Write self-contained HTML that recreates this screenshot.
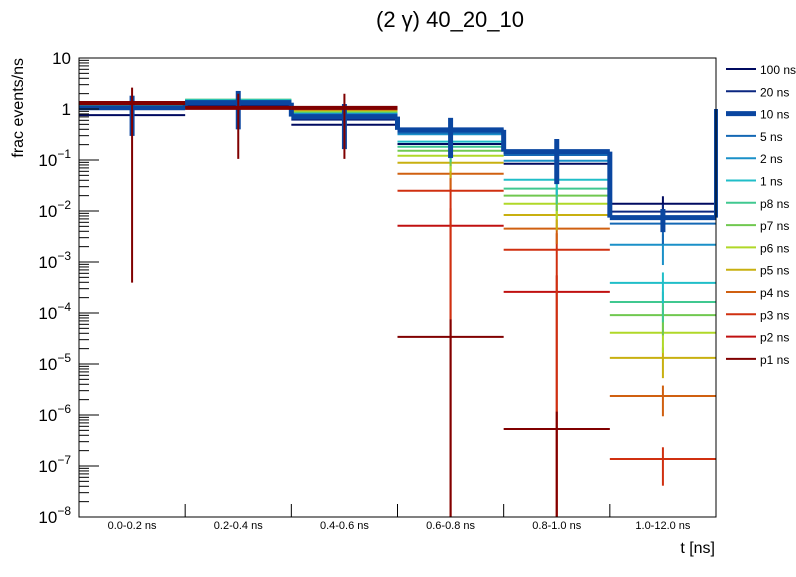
<!DOCTYPE html>
<html><head><meta charset="utf-8"><style>
body{margin:0;background:#fff;font-family:"Liberation Sans",sans-serif}
svg text{font-family:"Liberation Sans",sans-serif}
</style></head><body>
<svg id="chart" width="796" height="572" xmlns="http://www.w3.org/2000/svg">
<rect width="796" height="572" fill="#fff"/>
<text x="450" y="27" font-size="22" text-anchor="middle">(2 γ) 40_20_10</text>
<text x="715" y="553" font-size="16" text-anchor="end">t [ns]</text>
<text transform="translate(23,58) rotate(-90)" font-size="16" text-anchor="end">frac events/ns</text>
<g id="plot"></g>
<g id="legend"></g>
</svg>
<script>
const categories=["0.0-0.2 ns","0.2-0.4 ns","0.4-0.6 ns","0.6-0.8 ns","0.8-1.0 ns","1.0-12.0 ns"];
const seriesNames=["100 ns","20 ns","10 ns","5 ns","2 ns","1 ns","p8 ns","p7 ns","p6 ns","p5 ns","p4 ns","p3 ns","p2 ns","p1 ns"];
const seriesColors=["#000a60","#0a2680","#0a46a0","#1468b4","#1a90c8","#20bec8","#40c890","#70c850","#b0d828","#c8b010","#d06010","#d03010","#c01010","#800000"];
const v100=[0.76,1.05,0.49,0.206,0.0846,0.0139];
const v20=[1.0,1.2,0.62,0.39,0.137,0.0097];
const v10=[1.06,1.33,0.71,0.39,0.146,0.0074];
const v5=[1.08,1.38,0.75,0.343,0.125,0.00564];
const v2=[1.1,1.42,0.8,0.32,0.0969,0.00218];
const v1=[1.1,1.48,0.8,0.229,0.0411,0.00039];
const vp8=[1.12,1.52,0.82,0.182,0.0274,0.000164];
const vp7=[1.14,1.52,0.85,0.152,0.02,0.000091];
const vp6=[1.16,1.5,0.88,0.121,0.0139,0.000041];
const vp5=[1.18,1.45,0.9,0.0885,0.00835,0.0000132];
const vp4=[1.2,1.35,0.95,0.0539,0.0045,0.00000236];
const vp3=[1.22,1.2,1.0,0.025,0.00174,0.000000137];
const vp2=[1.26,1.1,1.02,0.00515,0.00026,1e-9];
const vp1=[1.31,1.05,1.05,0.000034,0.00000053,1e-11];
const seriesValues=[v100,v20,v10,v5,v2,v1,vp8,vp7,vp6,vp5,vp4,vp3,vp2,vp1];
const e10=[0.72,0.7,0.77,0.72,0.77,0.48];
const eGen=[0,0,0,0.5,0.5,0.6];
const ep1=[0.9997,0.9,0.9,1.2,1.2,0];
const ep2=[0,0,0,1.2,1.1,0];
const ep3=[0,0,0,1.1,1.1,0.7];
const yTickExps=[1,0,-1,-2,-3,-4,-5,-6,-7,-8];

const X0=79,X1=716,Y0=58,Y1=517,LOGMAX=1,LOGMIN=-8;
const NS="http://www.w3.org/2000/svg";
const plot=document.getElementById('plot');
const bw=(X1-X0)/categories.length;
function xs(i){return X0+i*bw;}
function ys(v){if(v<=0)return Y1+50;return Y0+(LOGMAX-Math.log10(v))/(LOGMAX-LOGMIN)*(Y1-Y0);}
function cl(y){return Math.max(Y0,Math.min(Y1,y));}
function mk(t,a,p){const e=document.createElementNS(NS,t);for(const k in a)e.setAttribute(k,a[k]);(p||plot).appendChild(e);return e;}

function errFor(s){if(s===2)return e10;if(s===13)return ep1;if(s===12)return ep2;if(s===11)return ep3;if(s===0||s===1)return [0,0,0,0,0,0.4];return eGen;}

const order=[12,11,10,9,8,7,6,5,4,3,0,1,2,13];
order.forEach(s=>{
  const vals=seriesValues[s];const col=seriesColors[s];
  const g=mk('g',{});
  
  
  const er=errFor(s);
  vals.forEach((v,i)=>{
    const y=ys(v);
    let sw=s===2?5:2;
    if(s===13&&i<3)sw=4;
    if(y<=Y1&&y>=Y0){
      const l=mk('line',{x1:xs(i),x2:xs(i+1),y1:y,y2:y,stroke:col,'stroke-width':sw},g);
      
      
    }
    if(er[i]>0){
      const hi=cl(ys(v*(1+er[i])));const lo=cl(ys(v*(1-er[i])));
      if(lo>Y0&&hi<Y1){
        const b=mk('line',{x1:xs(i)+bw/2,x2:xs(i)+bw/2,y1:hi,y2:lo,stroke:col,'stroke-width':s===2?5:2},g);
        
        
      }
    }
    if(s===2&&i>0){
      mk('line',{x1:xs(i),x2:xs(i),y1:ys(vals[i-1]),y2:y,stroke:col,'stroke-width':sw},g);
    }
  });
  if(s===2){mk('line',{x1:X1,x2:X1,y1:ys(vals[vals.length-1]),y2:109,stroke:col,'stroke-width':4},g);}
});

const fr=mk('rect',{x:X0,y:Y0,width:X1-X0,height:Y1-Y0,fill:'none',stroke:'#000','stroke-width':1});

yTickExps.forEach(e=>{
  const y=ys(Math.pow(10,e));
  mk('line',{x1:X0,x2:X0+20,y1:y,y2:y,stroke:'#000'});
  const t=mk('text',{x:X0-8,y:y+6,'font-size':17,'text-anchor':'end'});
  
  if(e===1)t.textContent='10';else if(e===0)t.textContent='1';
  else{t.textContent='10';const sp=mk('tspan',{dy:-8,'font-size':12},t);sp.textContent='−'+(-e);}
  if(e>LOGMIN){for(let m=2;m<=9;m++){const ym=ys(m*Math.pow(10,e-1));mk('line',{x1:X0,x2:X0+10,y1:ym,y2:ym,stroke:'#000'});}}
});
categories.forEach((c,i)=>{
  if(i>0)mk('line',{x1:xs(i),x2:xs(i),y1:Y1,y2:Y1-13,stroke:'#000'});
  const t=mk('text',{x:xs(i)+bw/2,y:529,'font-size':11,'text-anchor':'middle'});
  
  t.textContent=c;
});
const lg=document.getElementById('legend');
seriesNames.forEach((n,i)=>{
  const y=69+i*22.3;
  const g=mk('g',{},lg);
  
  
  mk('line',{x1:726,x2:756,y1:y,y2:y,stroke:seriesColors[i],'stroke-width':i===2?5:2},g);
  const t=mk('text',{x:760,y:y+5,'font-size':12},g);t.textContent=n;
});
</script>
</body></html>
